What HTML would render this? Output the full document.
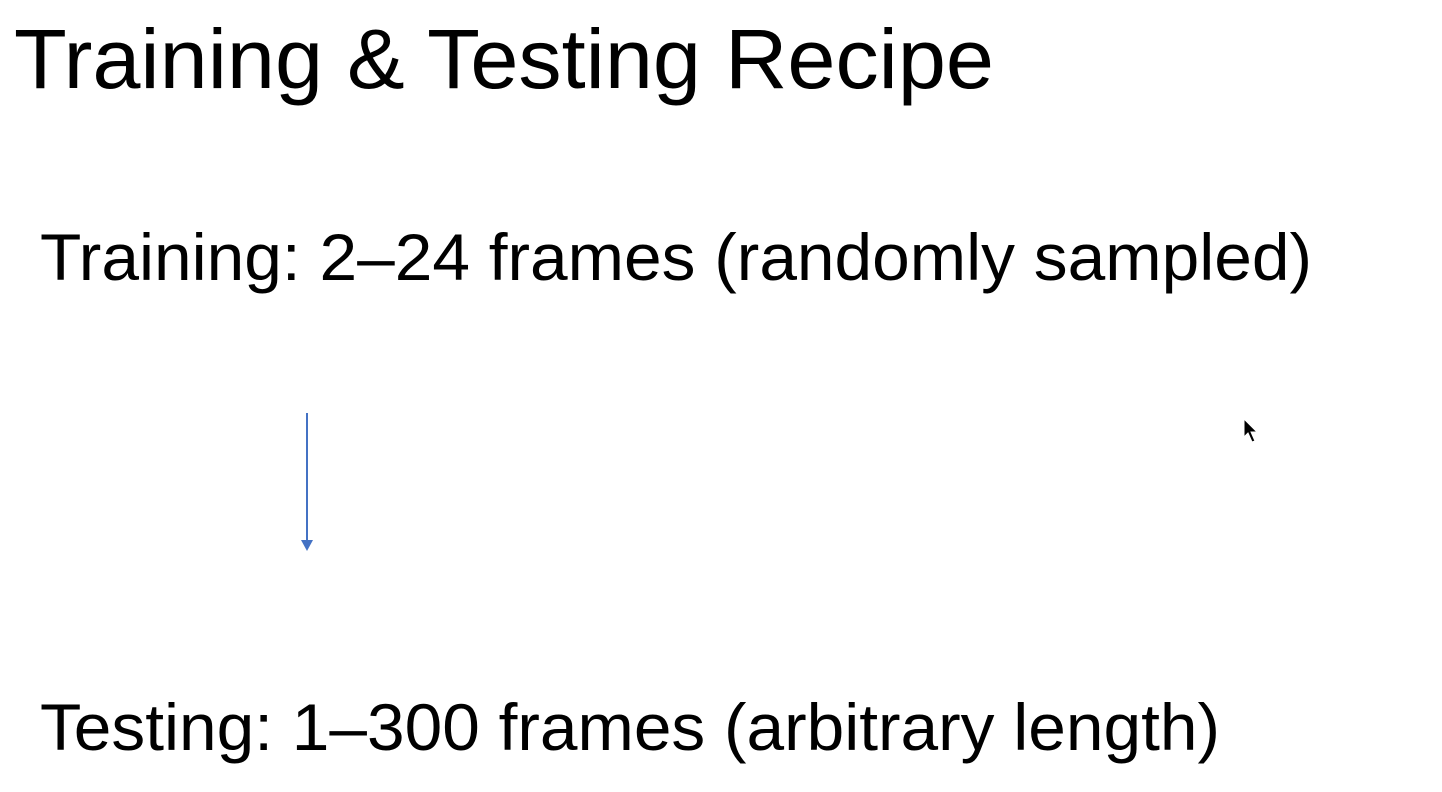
<!DOCTYPE html>
<html><head><meta charset="utf-8"><style>
html,body{margin:0;padding:0;background:#fff;width:1442px;height:792px;overflow:hidden}
svg{display:block}
</style></head><body>
<svg width="1442" height="792" viewBox="0 0 1442 792" xmlns="http://www.w3.org/2000/svg">
<rect width="1442" height="792" fill="#fff"/>
<text x="14" y="88" font-family="Liberation Sans, sans-serif" font-size="84" fill="#000" textLength="980" lengthAdjust="spacingAndGlyphs">Training &amp; Testing Recipe</text>
<text x="40" y="280" font-family="Liberation Sans, sans-serif" font-size="66" fill="#000" textLength="1272" lengthAdjust="spacingAndGlyphs">Training: 2–24 frames (randomly sampled)</text>
<text x="40" y="750" font-family="Liberation Sans, sans-serif" font-size="66" fill="#000" textLength="1180" lengthAdjust="spacingAndGlyphs">Testing: 1–300 frames (arbitrary length)</text>
<line x1="307" y1="413" x2="307" y2="542" stroke="#4472c4" stroke-width="2"/>
<polygon points="301,540 313,540 307,551" fill="#4472c4"/>
<polygon points="1244,419 1244,437 1248,433 1252,442 1255,441 1251,432 1257,432" fill="#000" stroke="#fff" stroke-width="1"/>
</svg>
</body></html>
